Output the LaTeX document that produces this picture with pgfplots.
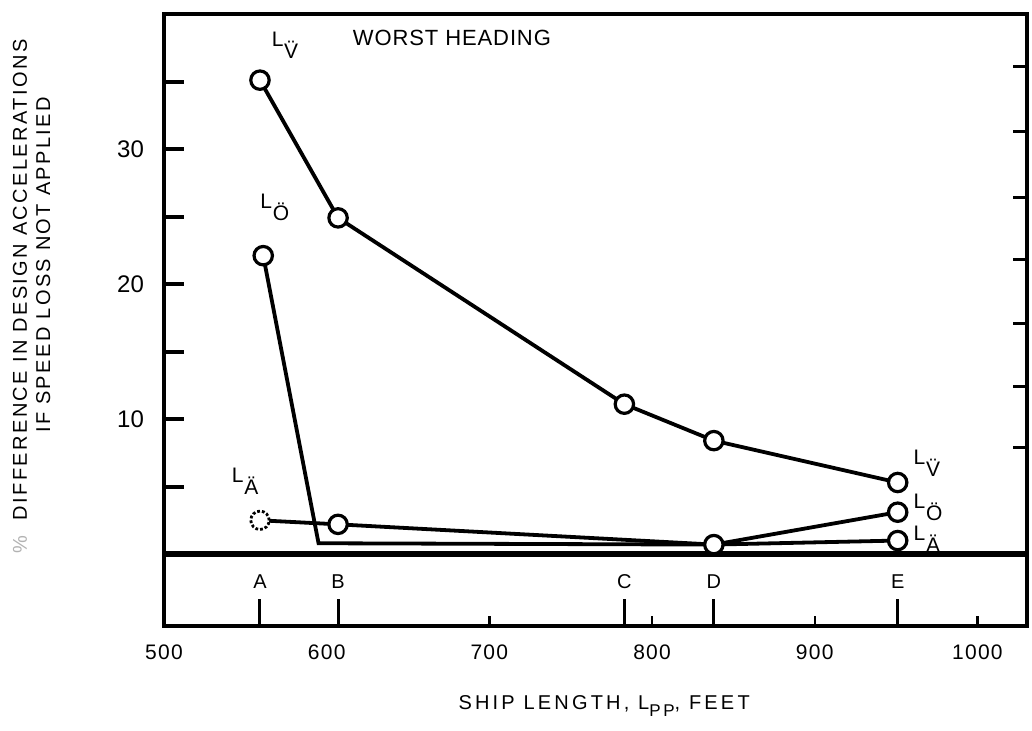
\documentclass[border=0pt]{standalone}
\usepackage{fontspec}
\setmainfont{Liberation Sans}
\usepackage{pgfplots}
\pgfplotsset{compat=1.18}

% L with a lowered, dotted subscript letter (acceleration notation)
\newcommand{\Lsub}[1]{L\kern0.4pt\raisebox{-6pt}{#1}}

\begin{document}
\begin{tikzpicture}
\useasboundingbox (-82pt,-52pt) rectangle (434pt,313pt);
\pgfplotsset{
  common/.style={scale only axis, width=431.5pt, height=306pt,
    xmin=500, xmax=1030.5, ymin=-5.33, ymax=40,
    /pgf/number format/assume math mode=true},
}

% frame, data and the ship-length scale
\begin{axis}[common, clip=false,
  axis line style={line width=1.8pt},
  tick align=inside, xtick pos=bottom, ytick=\empty,
  xtick={559,607,783,838,951}, xticklabels={},
  major tick length=13.5pt, major tick style={line width=1.5pt, black},
  minor xtick={700,800,900,1000}, minor tick length=5pt,
  minor tick style={line width=1.2pt, black},
  extra x ticks={500,600,700,800,900,1000},
  extra x tick labels={500,600,700,800,900,1000},
  extra x tick style={major tick style={draw=none}},
  xticklabel style={font=\fontsize{10.5}{12}\selectfont\addfontfeatures{LetterSpace=6}, yshift=-6pt},
  xlabel={SHIP LENGTH, L\raisebox{-3.5pt}{\fontsize{8.5}{10}\selectfont PP}, FEET},
  xlabel style={at={(axis description cs:0.51,0)}, anchor=base, yshift=-41.5pt,
    font=\fontsize{10}{12}\selectfont\addfontfeatures{LetterSpace=16}},
]
% zero line
\addplot[black, line width=2.8pt] coordinates {(500,0) (1030.5,0)};
% L_O
\addplot[black, line width=1.9pt, mark=*, mark size=4.6pt, mark indices={1,4},
  mark options={fill=white, draw=black, line width=1.6pt}]
  coordinates {(561,22.1) (595,0.8) (838,0.7) (951,3.1)};
% L_A
\addplot[black, line width=1.9pt, mark=*, mark size=4.6pt, mark indices={2,3,4},
  mark options={fill=white, draw=black, line width=1.6pt}]
  coordinates {(559,2.5) (607,2.2) (838,0.7) (951,1.0)};
\addplot[only marks, mark=*, mark size=4.6pt,
  mark options={fill=white, draw=black, line width=1.4pt, densely dotted}]
  coordinates {(559,2.5)};
% L_V
\addplot[black, line width=1.9pt, mark=*, mark size=4.6pt,
  mark options={fill=white, draw=black, line width=1.6pt}]
  coordinates {(559,35.1) (607,24.9) (783,11.1) (838,8.4) (951,5.3)};

\node[font=\fontsize{11}{13}\selectfont\addfontfeatures{LetterSpace=4}] at (axis cs:677,38.2) {WORST HEADING};

\begin{scope}[every node/.style={inner sep=0pt, anchor=base west, font=\fontsize{10.5}{12}\selectfont}]
\node at (axis cs:566,37.6) {\Lsub{\"V}};
\node at (axis cs:559,25.6) {\Lsub{\"O}};
\node at (axis cs:541.5,5.3) {\Lsub{\"A}};
\node at (axis cs:960.6,6.6) {\Lsub{\"V}};
\node at (axis cs:960.6,3.4) {\Lsub{\"O}};
\node at (axis cs:960.6,1.04) {\Lsub{\"A}};
\end{scope}

\begin{scope}[every node/.style={inner sep=0pt, anchor=base, font=\fontsize{10}{12}\selectfont}]
\node at (axis cs:559,-2.52) {A};
\node at (axis cs:607,-2.52) {B};
\node at (axis cs:783,-2.52) {C};
\node at (axis cs:838,-2.52) {D};
\node at (axis cs:951,-2.52) {E};
\end{scope}

\node[rotate=90, font=\fontsize{10}{12}\selectfont\addfontfeatures{LetterSpace=12}]
  at (axis description cs:-0.167,0.538) {{\color{gray!60}\%}\ \ DIFFERENCE IN DESIGN ACCELERATIONS};
\node[rotate=90, font=\fontsize{10}{12}\selectfont\addfontfeatures{LetterSpace=12}]
  at (axis description cs:-0.140,0.59) {IF SPEED LOSS NOT APPLIED};
\end{axis}

% left-hand acceleration scale
\begin{axis}[common, hide x axis, axis y line*=left,
  axis line style={line width=1.8pt},
  ytick={5,10,...,35}, yticklabels={,10,,20,,30,},
  tick align=inside, major tick length=10pt, major tick style={line width=2pt, black},
  yticklabel style={font=\fontsize{12}{14}\selectfont, xshift=-6.5pt}]
\end{axis}

% right-hand tick scale
\begin{axis}[common, hide x axis, axis y line*=right,
  axis line style={line width=1.8pt},
  ytick={36.1,31.3,26.4,21.8,17.1,12.4,7.9}, yticklabels={},
  tick align=inside, major tick length=7pt, major tick style={line width=1.6pt, black}]
\end{axis}
\end{tikzpicture}
\end{document}
